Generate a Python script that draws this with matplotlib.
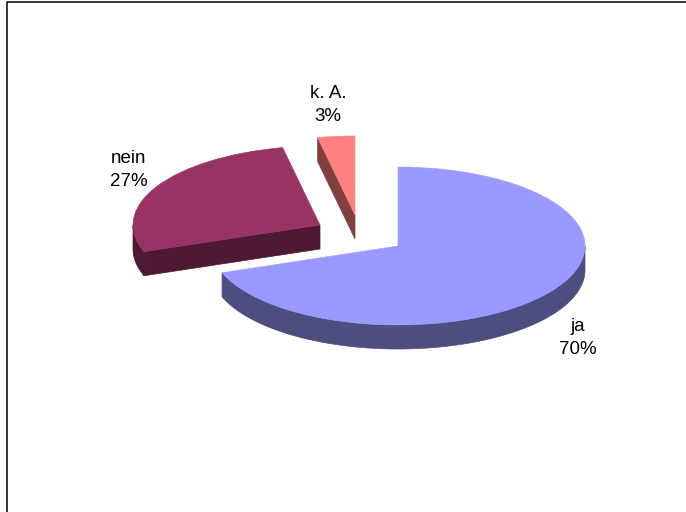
import numpy as np
import matplotlib
matplotlib.use("Agg")
import matplotlib.pyplot as plt
from matplotlib.patches import Wedge
from matplotlib.transforms import Affine2D

labels = ["ja", "nein", "k. A."]
shares = [69.5, 27.3, 3.2]
top_colors = ["#9999ff", "#993366", "#ff8080"]
side_colors = ["#4d4d80", "#4d1933", "#804040"]

# centre of every slice after exploding, in pixels
centers = [(398, 246), (320, 225), (355, 215)]
label_pos = [(578, 338), (128.5, 170), (328, 105)]

RX = 187
RY = 79
DEPTH = 24

plt.rcParams['font.family'] = ['Liberation Sans', 'DejaVu Sans']

fig = plt.figure(figsize=(6.86, 5.12), dpi=100)
ax = fig.add_axes([0, 0, 1, 1])
ax.set_xlim(0, 686)
ax.set_ylim(512, 0)
ax.axis("off")

# frame, only left and top
ax.plot([6.5, 6.5, 686], [512, 1.5, 1.5], color="black", linewidth=1.1)


def pt(cx, cy, ang):
    a = np.radians(ang)
    return cx + RX * np.cos(a), cy - RY * np.sin(a)


start = 90.0
for lab, val, top, side, c, lp in zip(labels, shares, top_colors, side_colors, centers, label_pos):
    end = start - val * 3.6
    cx, cy = c

    # outer wall, only the part turned to the viewer
    a1 = max(end, -180.0)
    a2 = min(start, 0.0)
    if a2 > a1:
        ang = np.linspace(a1, a2, 120)
        xs, ys = pt(cx, cy, ang)
        ax.fill(np.r_[xs, xs[::-1]], np.r_[ys, ys[::-1] + DEPTH], color=side, linewidth=0.5, zorder=2)

    # cut edge at the start of the slice, ja hides its own
    if lab != "ja":
        x0, y0 = pt(cx, cy, start)
        ax.fill([cx, x0, x0, cx], [cy, y0, y0 + DEPTH, cy + DEPTH], color=side, linewidth=0.5, zorder=2)

    # the y axis is flipped, so the angles are mirrored here
    tr = Affine2D().scale(RX, RY).translate(cx, cy) + ax.transData
    w = Wedge((0, 0), 1, -start, -end, facecolor=top, edgecolor=top, linewidth=0.4, transform=tr, zorder=3)
    ax.add_patch(w)

    ax.text(lp[0], lp[1], f"{lab}\n{val:.0f}%", ha="center", va="center", fontsize=13.5,
            color="black", linespacing=1.45, zorder=4)
    start = end

fig.savefig("out.png", dpi=100)
